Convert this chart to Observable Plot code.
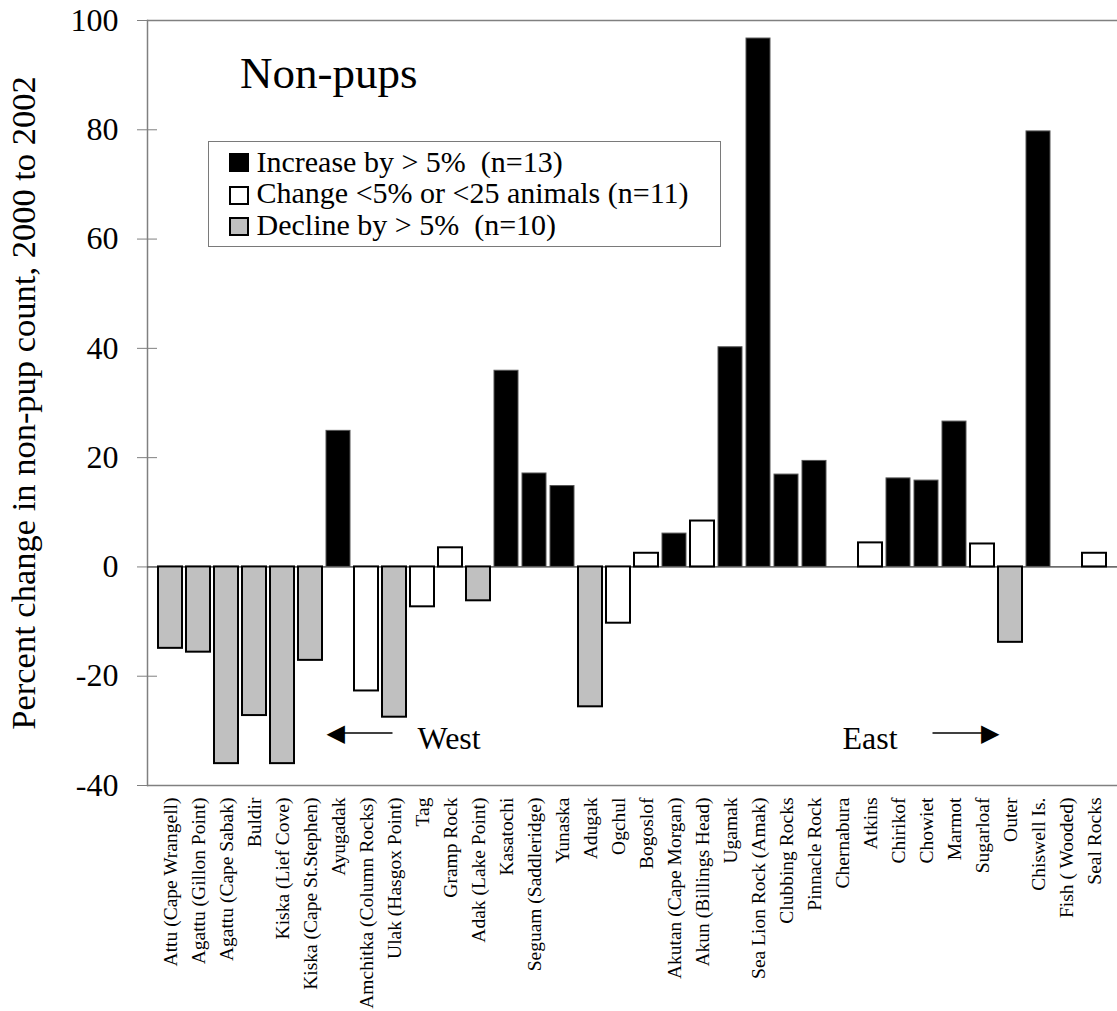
<!DOCTYPE html>
<html>
<head>
<meta charset="utf-8">
<script src="https://cdn.jsdelivr.net/npm/d3@7"></script>
<script src="https://cdn.jsdelivr.net/npm/@observablehq/plot@0.6"></script>
<style>
  html, body { margin: 0; padding: 0; background: #fff; }
  #wrap { position: relative; width: 1117px; height: 1011px; font-family: "Liberation Serif", "Times New Roman", serif; color: #000; }
  .lbl { position: absolute; white-space: pre; line-height: 1; }
  .sw { position: absolute; box-sizing: border-box; width: 20px; height: 19px; }
  #legend { position: absolute; box-sizing: border-box; left: 208px; top: 141px; width: 513px; height: 106px; border: 1.5px solid #7a7a7a; }
</style>
</head>
<body>
<div id="wrap"></div>
<script>
// ---- data ----
const sites = [
  "Attu (Cape Wrangell)", "Agattu (Gillon Point)", "Agattu (Cape Sabak)", "Buldir",
  "Kiska (Lief Cove)", "Kiska (Cape St.Stephen)", "Ayugadak", "Amchitka (Column Rocks)",
  "Ulak (Hasgox Point)", "Tag", "Gramp Rock", "Adak (Lake Point)", "Kasatochi",
  "Seguam (Saddleridge)", "Yunaska", "Adugak", "Ogchul", "Bogoslof",
  "Akutan (Cape Morgan)", "Akun (Billings Head)", "Ugamak", "Sea Lion Rock (Amak)",
  "Clubbing Rocks", "Pinnacle Rock", "Chernabura", "Atkins", "Chirikof", "Chowiet",
  "Marmot", "Sugarloaf", "Outer", "Chiswell Is.", "Fish ( Wooded)", "Seal Rocks"
];
const values = [
  -14.9, -15.6, -36.0, -27.2, -36.0, -17.1, 24.9, -22.7,
  -27.5, -7.3, 3.5, -6.2, 35.9,
  17.1, 14.8, -25.6, -10.3, 2.5,
  6.1, 8.4, 40.2, 96.7,
  16.9, 19.4, 0, 4.4, 16.2, 15.8,
  26.6, 4.2, -13.8, 79.7, 0, 2.5
];
const classes = [
  "dec", "dec", "dec", "dec", "dec", "dec", "inc", "chg",
  "dec", "chg", "chg", "dec", "inc",
  "inc", "inc", "dec", "chg", "chg",
  "inc", "chg", "inc", "inc",
  "inc", "inc", "chg", "chg", "inc", "inc",
  "inc", "chg", "dec", "inc", "chg", "chg"
];
const classKeys = ["inc", "chg", "dec"];
const classColors = ["#000000", "#ffffff", "#c0c0c0"];
const legendLabels = [
  "Increase by > 5%  (n=13)",
  "Change <5% or <25 animals (n=11)",
  "Decline by > 5%  (n=10)"
];
const yTicks = [100, 80, 60, 40, 20, 0, -20, -40];
const yLabel = "Percent change in non-pup count, 2000 to 2002";
const panelTitle = "Non-pups";
const dirNotes = [
  {text: "West", site: "Tag", value: -31.5},
  {text: "East", site: "Chernabura", value: -31.5}
];

const data = sites.map((s, i) => ({site: s, value: values[i], cls: classes[i]}));
const serif = '"Liberation Serif", "Times New Roman", serif';

const chart = Plot.plot({
  width: 1117,
  height: 1011,
  marginLeft: 147,
  marginRight: 0,
  marginTop: 20,
  marginBottom: 226,
  style: {fontFamily: serif, fontSize: "20px", color: "black", background: "white"},
  x: {domain: sites, paddingInner: 0.16, paddingOuter: 0.05},
  y: {domain: [-40, 100]},
  color: {domain: classKeys, range: classColors},
  marks: [
    Plot.ruleY([100, -40], {stroke: "#808080", strokeWidth: 1.5}),
    Plot.frame({anchor: "left", stroke: "#808080", strokeWidth: 1.5}),
    Plot.ruleY([0], {stroke: "black", strokeWidth: 1}),
    Plot.barY(data.filter(d => d.value !== 0), {
      x: "site", y: "value", fill: "cls",
      stroke: d => d.cls === "inc" ? "#555" : "black",
      strokeWidth: d => d.cls === "inc" ? 1 : 2
    }),
    Plot.axisY({
      ticks: yTicks, tickSize: 20, dx: 10, tickPadding: 19,
      tickFormat: d => String(d), fontSize: 32, stroke: "#808080", label: null
    }),
    Plot.axisX({tickRotate: -90, tickSize: 0, tickPadding: 12, fontSize: 19.5, label: null}),
    Plot.text([yLabel], {frameAnchor: "left", rotate: -90, dx: -113, fontSize: 34.5, textAnchor: "middle", lineAnchor: "bottom"}),
    // direction notes
    Plot.text(dirNotes.slice(0, 1), {x: "site", y: "value", text: "text", textAnchor: "start", lineAnchor: "middle", fontSize: 32, dx: -5}),
    Plot.text(dirNotes.slice(1), {x: "site", y: "value", text: "text", textAnchor: "start", lineAnchor: "middle", fontSize: 32, dx: 0}),
    Plot.link([{a: "Ayugadak", b: "Ulak (Hasgox Point)", v: -30.4}], {x1: "a", x2: "b", y1: "v", y2: "v", stroke: "black", strokeWidth: 1.5, dx: -2}),
    Plot.text([{s: "Ayugadak", v: -30.4}], {x: "s", y: "v", text: () => "\u25C0", fontFamily: "DejaVu Sans", fontSize: 24, textAnchor: "start", lineAnchor: "middle", dx: -12}),
    Plot.link([{a: "Chowiet", b: "Sugarloaf", v: -30.4}], {x1: "a", x2: "b", y1: "v", y2: "v", stroke: "black", strokeWidth: 1.5, dx: 6}),
    Plot.text([{s: "Sugarloaf", v: -30.4}], {x: "s", y: "v", text: () => "\u25B6", fontFamily: "DejaVu Sans", fontSize: 24, textAnchor: "end", lineAnchor: "middle", dx: 17})
  ]
});

const wrap = document.getElementById("wrap");
wrap.appendChild(chart);

function place(text, left, baseline, fs) {
  const el = document.createElement("div");
  el.className = "lbl";
  el.textContent = text;
  el.style.fontSize = fs + "px";
  el.style.left = left + "px";
  el.style.top = (baseline - 0.8375 * fs) + "px";
  wrap.appendChild(el);
}
place(panelTitle, 240, 88.3, 45);

const lg = document.createElement("div");
lg.id = "legend";
wrap.appendChild(lg);
const baselines = [171.7, 203.3, 235.2];
const swTops = [152.5, 185.5, 217];
legendLabels.forEach((t, i) => {
  const sw = document.createElement("div");
  sw.className = "sw";
  sw.style.left = "229px";
  sw.style.top = swTops[i] + "px";
  sw.style.background = classColors[i];
  sw.style.border = i === 0 ? "1px solid #000" : "2px solid #000";
  wrap.appendChild(sw);
  place(t, 256.5, baselines[i], 30);
});
</script>
</body>
</html>
